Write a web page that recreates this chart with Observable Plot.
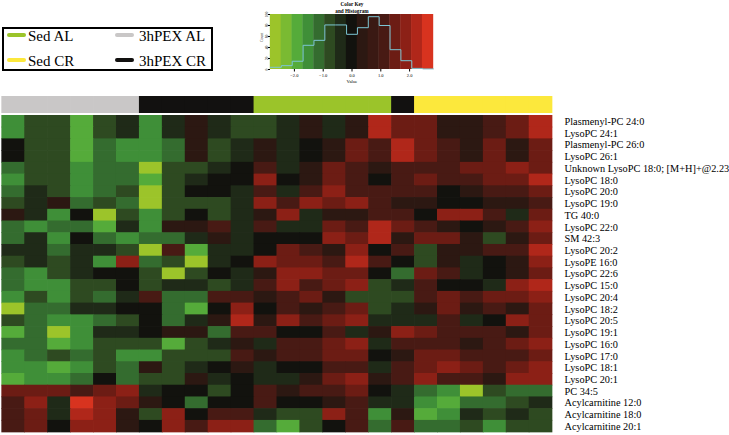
<!DOCTYPE html>
<html><head><meta charset="utf-8">
<script src="https://cdn.jsdelivr.net/npm/d3@7"></script>
<script src="https://cdn.jsdelivr.net/npm/@observablehq/plot@0.6"></script>
<style>
html,body{margin:0;padding:0;background:#fff;}
#root{position:relative;width:729px;height:435px;overflow:hidden;font-family:"Liberation Serif","Times New Roman",serif;}
#root svg{position:absolute;background:transparent;}
.legend{position:absolute;left:2px;top:27px;width:211px;height:44px;border:2px solid #000;box-sizing:border-box;}
.legend .sw{position:absolute;height:4px;width:19px;border-radius:2px;}
.legend .tx{position:absolute;font-size:15px;line-height:16px;color:#000;white-space:nowrap;}
</style></head><body><div id="root"></div>
<script>
// ---------- data ----------
const metabolites = ["Plasmenyl-PC 24:0","LysoPC 24:1","Plasmenyl-PC 26:0","LysoPC 26:1",
 "Unknown LysoPC 18:0; [M+H]+@2.23","LysoPC 18:0","LysoPC 20:0","LysoPC 19:0","TG 40:0",
 "LysoPC 22:0","SM 42:3","LysoPC 20:2","LysoPE 16:0","LysoPC 22:6","LysoPC 15:0","LysoPC 20:4",
 "LysoPC 18:2","LysoPC 20:5","LysoPC 19:1","LysoPC 16:0","LysoPC 17:0","LysoPC 18:1","LysoPC 20:1",
 "PC 34:5","Acylcarnitine 12:0","Acylcarnitine 18:0","Acylcarnitine 20:1"];
const samples = ["S1","S2","S3","S4","S5","S6","S7","S8","S9","S10","S11","S12",
 "S13","S14","S15","S16","S17","S18","S19","S20","S21","S22","S23","S24"];
const sampleGroup = ["3hPEX AL","3hPEX AL","3hPEX AL","3hPEX AL","3hPEX AL","3hPEX AL",
 "3hPEX CR","3hPEX CR","3hPEX CR","3hPEX CR","3hPEX CR",
 "Sed AL","Sed AL","Sed AL","Sed AL","Sed AL","Sed AL",
 "3hPEX CR",
 "Sed CR","Sed CR","Sed CR","Sed CR","Sed CR","Sed CR"];
const groups = ["Sed AL","3hPEX AL","Sed CR","3hPEX CR"];
const groupColors = ["#9bc42a","#c9c7c7","#fce83c","#121110"];

const vals01 = [-1.5,-0.8,-0.8,-1.9,-0.8,-0.4,-1.5,-0.4,0.4,-0.4,-0.8,-0.8, -0.4,0.4,-0.4,0.4,2.3,1.5,1.5,0.4,0.4,1.0,1.5,2.3];
const vals02 = [-1.5,-0.8,-0.8,-1.9,-0.8,-0.4,-1.5,-0.4,0.4,-0.4,-0.8,-0.8, -0.4,0.4,-0.4,0.4,2.3,1.5,1.5,0.4,0.4,1.0,1.5,2.3];
const vals03 = [0,-0.8,-0.8,-1.9,-1.1,-1.5,-1.5,-1.1,0.4,-0.8,-0.4,0.4, -0.4,0,0.4,1.5,1.0,2.3,1.5,1.0,0.4,1.5,0.4,1.5];
const vals04 = [0,-0.8,-0.8,-1.9,-1.1,-1.5,-1.5,-1.1,0.4,-0.8,-0.4,0.4, -0.4,0,0.4,1.5,1.0,2.3,1.5,1.0,0.4,1.5,0.4,1.5];
const vals05 = [-1.1,-0.8,-0.8,-1.5,-1.1,-1.1,-2.6,-0.8,-0.8,-0.4,0,1.0, -0.4,0.4,1.5,1.0,0.4,1.0,1.0,1.0,1.5,1.5,1.9,1.5];
const vals06 = [-1.5,-0.8,-0.8,-1.5,-1.1,-1.1,-1.9,-0.8,-0.4,0,0,1.9, 0,0.4,1.5,1.0,0,1.0,1.5,1.0,1.0,1.5,1.5,2.3];
const vals07 = [-1.1,-0.4,-0.8,-1.5,-1.1,-0.8,-2.6,-0.8,0,0,-0.4,1.0, -0.4,1.0,1.9,1.0,1.0,1.0,1.0,0,0.4,1.0,1.0,1.5];
const vals08 = [-0.8,-0.4,0.4,-1.1,-0.8,-1.1,-2.6,-0.8,-0.8,-0.8,-0.4,1.9, 1.0,1.9,1.5,1.9,1.0,0.4,0.4,0,0,0.4,0.4,1.0];
const vals09 = [0.4,-0.4,-1.5,0,-2.6,-0.8,-1.5,-0.8,0,-0.8,-0.4,0.4, 1.9,-0.4,0.4,0.4,1.0,1.0,0,1.9,1.9,1.0,-0.4,1.5];
const vals10 = [-1.1,-1.5,-1.1,-1.1,-1.9,-0.4,-1.5,0.4,0.4,1.0,-0.4,1.0, -0.4,-0.4,1.5,1.0,2.3,1.5,1.0,0.4,0,0.4,1.0,1.9];
const vals11 = [-1.1,-0.4,-1.5,0,-1.1,-1.5,-1.1,-1.1,-0.4,0.4,-0.4,0, 0,0,1.9,1.5,2.3,0.4,1.5,1.5,0.4,-0.8,0.4,1.5];
const vals12 = [-0.4,-0.4,-1.1,-0.4,-0.4,-0.8,-2.6,1.0,-1.9,-0.4,-0.4,0, 1.5,1.0,0.4,1.9,0,1.0,-0.8,0.4,0.4,1.0,1.0,2.3];
const vals13 = [-0.8,-0.4,-0.8,-0.4,-1.5,1.9,-1.1,-0.8,-2.6,-0.4,0,1.9, 1.5,1.5,1.0,2.3,1.0,0,-0.8,0.4,-0.4,0,0.4,1.9];
const vals14 = [-1.1,-1.5,-0.8,-0.4,0,0,-0.8,-2.6,-0.8,0,-0.4,0.4, 1.9,1.9,1.5,1.5,0,-1.1,1.5,1.0,-0.4,0,0.4,1.5];
const vals15 = [-1.1,-1.5,-1.5,-0.8,-0.8,0,-0.8,-0.4,-0.4,-0.8,-0.4,1.0, 1.9,1.0,1.5,1.9,-0.8,-0.4,1.0,0,0,-0.4,1.9,2.3];
const vals16 = [-1.5,-0.8,-1.5,-0.8,-1.1,-0.4,1.0,-1.1,-1.1,1.0,1.0,0.4, 1.0,1.5,0.4,-0.8,-0.8,-0.8,1.0,1.5,1.0,1.5,1.5,1.9];
const vals17 = [-2.6,-1.1,-1.1,-0.4,-0.4,0,0,-1.1,-1.9,0,1.9,0, 1.0,0.4,1.0,1.5,-0.8,-0.4,0.4,1.5,0.4,1.0,0.4,1.5];
const vals18 = [-0.8,-1.1,-1.5,-1.5,-1.1,-0.8,0,-1.1,-0.4,0.4,2.3,0.4, 1.9,1.0,1.5,1.9,-0.4,-0.4,-0.4,1.0,-0.4,0,1.9,1.5];
const vals19 = [-1.9,-1.1,-2.6,-1.5,-0.4,-0.4,0,0.4,0.4,-1.1,1.0,1.0, 0,0,1.0,-0.4,0.4,1.9,1.5,1.0,1.0,1.0,0.4,1.5];
const vals20 = [-1.1,-1.1,-1.9,-1.5,-0.8,-0.8,-0.8,-1.9,-0.8,-0.4,0.4,-0.4, 1.0,1.0,1.5,1.9,-0.4,1.0,1.0,1.0,0.4,1.0,1.5,1.9];
const vals21 = [-1.5,-1.1,-0.8,-1.1,-0.8,-1.5,-1.5,-0.8,-0.8,-0.8,1.0,0.4, 1.0,1.0,1.5,1.5,0,0.4,1.5,1.5,1.0,1.0,1.0,1.5];
const vals22 = [-1.5,-1.5,-1.9,-1.5,-0.8,-1.1,0.4,-0.8,-0.4,0,0.4,-0.4, 0,0,1.0,1.0,-0.4,1.0,1.5,1.9,1.5,1.0,1.5,1.9];
const vals23 = [-1.9,-1.5,-1.5,-1.1,0,-1.1,-0.8,-0.8,0.4,-0.4,0,-0.4, -0.4,0.4,1.5,1.9,0.4,1.0,1.9,1.0,1.0,0.4,1.9,1.9];
const vals24 = [1.5,1.5,1.5,1.0,1.5,1.9,-0.4,0,0,-0.8,0,1.0, 0.4,1.0,1.0,1.5,0,-0.4,-1.1,-1.5,-2.6,-0.8,-1.1,-1.1];
const vals25 = [1.0,1.9,-0.4,2.6,1.9,1.5,0.4,0,-1.1,0,0,1.0, 0,0,0.4,1.0,-0.4,-0.4,-1.5,-1.9,-1.1,-1.1,-0.8,-0.4];
const vals26 = [1.0,1.5,-0.4,2.3,1.9,0.4,-0.8,1.9,0,1.0,1.0,-0.4, -0.8,-0.8,1.9,1.0,-1.5,0.4,-1.9,-1.5,-0.4,-0.8,-0.4,-0.8];
const vals27 = [1.0,1.5,0,1.9,1.9,0.4,0,1.9,1.0,1.9,1.9,-1.1, -1.9,-0.8,0,1.0,-1.1,1.0,-1.1,-1.1,-0.8,-1.5,-0.8,-0.8];
const rowValues = [vals01,vals02,vals03,vals04,vals05,vals06,vals07,vals08,vals09,vals10,vals11,vals12,vals13,
 vals14,vals15,vals16,vals17,vals18,vals19,vals20,vals21,vals22,vals23,vals24,vals25,vals26,vals27];

// colour key
const keyRange = [-2.83, 2.83];
const keyColors = ["#9cc42a","#7aba32","#55ab3a","#3f8f38","#346c2f","#2e4a21","#1f2a18","#12120e",
 "#2c1812","#3a1913","#481a14","#6c1c14","#8c2016","#b0271a","#d8331f"];
const histCounts = [4,7,15,44,53,81,81,64,76,96,80,36,16,2,1];
const keyXTicks = [-2,-1,0,1,2];
const keyYTicks = [0,20,40,60,80,100];

// ---------- build ----------
const root = document.getElementById("root");
const nb = keyColors.length;
const edges = d3.range(nb + 1).map(i => keyRange[0] + (keyRange[1] - keyRange[0]) * i / nb);
const colorScale = {type: "threshold", domain: edges.slice(1, -1), range: keyColors};
const font = "Liberation Serif";

// legend
const legendPos = [{sw:3, tx:24, row:0},{sw:111, tx:135, row:0},{sw:3, tx:24, row:1},{sw:111, tx:135, row:1}];
const leg = document.createElement("div");
leg.className = "legend";
groups.forEach((g, i) => {
  const p = legendPos[i];
  const sw = document.createElement("span");
  sw.className = "sw"; sw.style.background = groupColors[i];
  sw.style.left = p.sw + "px"; sw.style.top = (4 + p.row * 25) + "px";
  const tx = document.createElement("span");
  tx.className = "tx"; tx.textContent = g;
  tx.style.left = p.tx + "px"; tx.style.top = (-1 + p.row * 25) + "px";
  leg.appendChild(sw); leg.appendChild(tx);
});
root.appendChild(leg);

// colour key with histogram
const bins = d3.range(nb).map(i => ({x1: edges[i], x2: edges[i + 1], mid: (edges[i] + edges[i + 1]) / 2}));
const histPts = histCounts.map((c, i) => ({x: edges[i], y: c})).concat([{x: edges[nb], y: histCounts[nb - 1]}]);
const key = Plot.plot({
  width: 200, height: 90, marginLeft: 30, marginRight: 7, marginTop: 14, marginBottom: 21,
  x: {domain: keyRange}, y: {domain: [0, 100]},
  color: colorScale,
  style: {fontFamily: font, fontSize: "5px", background: "transparent"},
  marks: [
    Plot.rect(bins, {x1: "x1", x2: "x2", fill: "mid", insetLeft: -0.2, insetRight: -0.2}),
    Plot.line(histPts, {x: "x", y: "y", curve: "step-after", stroke: "#7cc6d4", strokeWidth: 1}),
    Plot.axisX({ticks: keyXTicks, tickSize: 2.5, tickPadding: 1.5, fontSize: 4.5, label: null}),
    Plot.axisY({ticks: keyYTicks, tickSize: 2, tickPadding: 1, fontSize: 3.6, tickRotate: -90, label: null}),
    Plot.text(["Value"], {frameAnchor: "bottom", dy: 13, fontSize: 4.8}),
    Plot.text(["Count"], {frameAnchor: "left", dx: -9, rotate: -90, fontSize: 3.8}),
    Plot.text(["Color Key\nand Histogram"], {frameAnchor: "top", lineAnchor: "bottom", dy: -1.5, fontSize: 5.2, fontWeight: "bold", lineHeight: 1.3})
  ]
});
key.style.left = "240px"; key.style.top = "0px";
root.appendChild(key);

// group colour bar
const bar = Plot.plot({
  width: 729, height: 17, marginLeft: 1.7, marginRight: 177, marginTop: 0, marginBottom: 0,
  x: {domain: samples, axis: null, padding: 0, round: false},
  color: {domain: groups, range: groupColors},
  marks: [Plot.cell(samples, {x: d => d, fill: (d, i) => sampleGroup[i], insetLeft: -0.35, insetRight: -0.35, insetTop: 0, insetBottom: 0})]
});
bar.style.left = "0px"; bar.style.top = "96px";
root.appendChild(bar);

// heatmap
const cells = [];
rowValues.forEach((vals, r) => vals.forEach((v, c) => cells.push({row: metabolites[r], sample: samples[c], value: v})));
const heat = Plot.plot({
  width: 729, height: 320, marginLeft: 1.7, marginRight: 177, marginTop: 0.3, marginBottom: 3,
  x: {domain: samples, axis: null, padding: 0, round: false},
  y: {domain: metabolites, padding: 0, round: false, axis: "right", tickSize: 0, tickPadding: 12, label: null},
  color: colorScale,
  style: {fontFamily: font, fontSize: "10.3px", color: "#000", background: "transparent"},
  marks: [Plot.cell(cells, {x: "sample", y: "row", fill: "value", inset: -0.35})]
});
heat.style.left = "0px"; heat.style.top = "115px";
root.appendChild(heat);
</script></body></html>
